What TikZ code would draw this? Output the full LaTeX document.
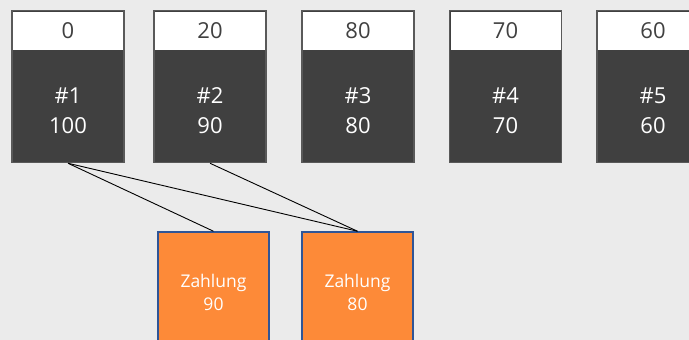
\documentclass[tikz,border=0pt]{standalone}
\usepackage{fontspec}
\setmainfont{Open Sans}
\usepackage{tikz}

\definecolor{bgray}{HTML}{EBEBEB}
\definecolor{dark}{HTML}{404040}
\definecolor{frame}{HTML}{595959}
\definecolor{zorange}{HTML}{FD8A38}
\definecolor{zblue}{HTML}{2F5597}

\tikzset{
	acc/.style={draw=frame,fill=dark,line width=1.5pt,minimum width=112pt,minimum height=152pt,inner sep=0pt},
	lbl/.style={fill=white,minimum width=110pt,minimum height=38pt,inner sep=0pt,font=\fontsize{22}{25}\selectfont,text=dark},
	accnum/.style={text=white,align=center,font=\fontsize{22}{30}\selectfont},
	pay/.style={draw=zblue,fill=zorange,line width=1.5pt,minimum width=111pt,minimum height=120pt,inner sep=0pt,text=white,align=center,font=\fontsize{17.5}{23}\selectfont},
	link/.style={black,line width=0.9pt}
}

\begin{document}
\begin{tikzpicture}[x=1pt,y=-1pt]
	\fill[bgray](0,0)rectangle(689,340);
	\useasboundingbox (0,0)rectangle(689,340);
	\clip (0,0)rectangle(689,340);
	
	% accounts
	\foreach \i/\x/\top/\bal in {1/68/0/100,2/210/20/90,3/358/80/80,4/505.5/70/70,5/653/60/60}{
		\node[acc] (acc\i) at (\x,86.5) {};
		\node[lbl] (lbl\i) at (\x,30.5) {\top};
		\node[accnum] (num\i) at (\x,110.5) {\#\i\\\bal};
	}
	
	% payments
	\node[pay] (payA) at (213.5,292) {Zahlung\\90};
	\node[pay] (payB) at (357.5,292) {Zahlung\\80};
	
	\draw[link](acc1.south)--(payA.north);
	\draw[link](acc1.south)--(payB.north);
	\draw[link](acc2.south)--(payB.north);
	
\end{tikzpicture}
\end{document}
